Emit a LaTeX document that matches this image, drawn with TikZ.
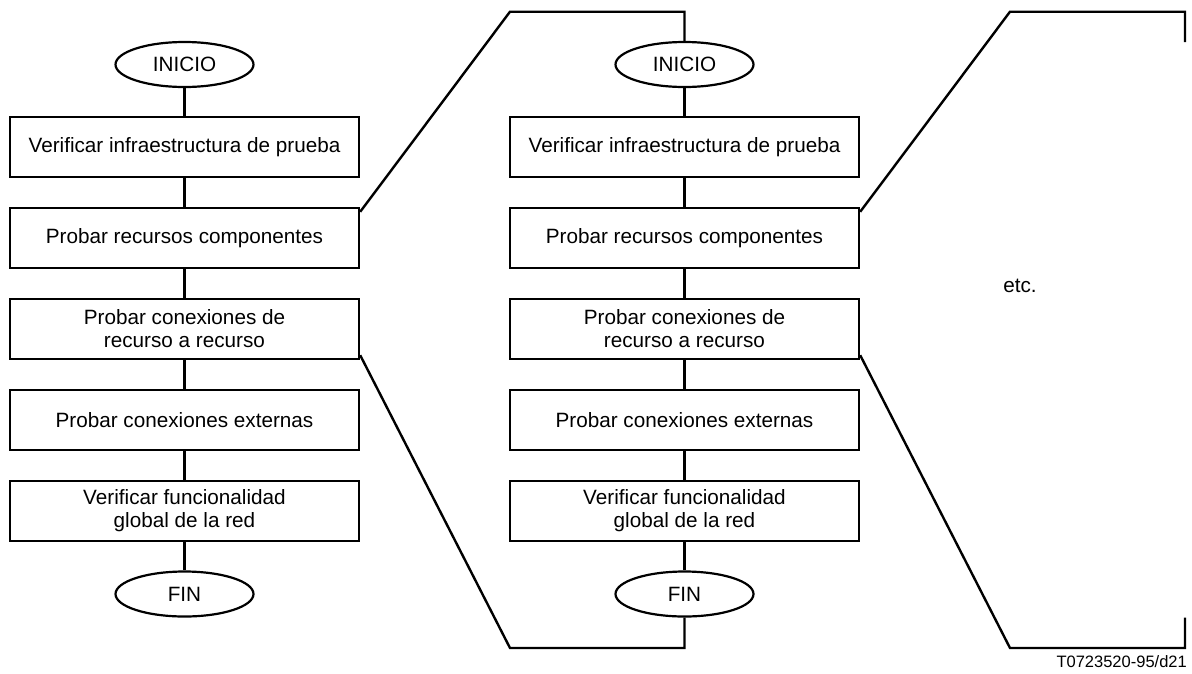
\documentclass[tikz,border=0pt]{standalone}
\usepackage{fontspec}
\setmainfont{Liberation Sans}
\usetikzlibrary{shapes.geometric,calc}
\begin{document}
\begin{tikzpicture}[x=1pt,y=-1pt,
  every node/.style={font=\fontsize{20.7}{23}\selectfont, inner sep=0pt},
  stepbox/.style={draw, line width=2.4pt, minimum width=349pt, minimum height=60pt, align=center},
  term/.style={draw, ellipse, line width=2.2pt, minimum width=138pt, minimum height=45pt},
  link/.style={line width=2.4pt},
  brk/.style={line width=2.4pt, line join=miter}]
\useasboundingbox (0,0) rectangle (1192,673);
% left column
\node[term] (LS) at (184.5,64.5) {INICIO};
\node[stepbox] (L1) at (184.5,147) {Verificar infraestructura de prueba};
\node[stepbox] (L2) at (184.5,238) {Probar recursos componentes};
\node[stepbox] (L3) at (184.5,329) {Probar conexiones de\\recurso a recurso};
\node[stepbox] (L4) at (184.5,420) {Probar conexiones externas};
\node[stepbox] (L5) at (184.5,511) {Verificar funcionalidad\\global de la red};
\node[term] (LF) at (184.5,594) {FIN};
% middle column
\node[term] (MS) at (684.5,64.5) {INICIO};
\node[stepbox] (M1) at (684.5,147) {Verificar infraestructura de prueba};
\node[stepbox] (M2) at (684.5,238) {Probar recursos componentes};
\node[stepbox] (M3) at (684.5,329) {Probar conexiones de\\recurso a recurso};
\node[stepbox] (M4) at (684.5,420) {Probar conexiones externas};
\node[stepbox] (M5) at (684.5,511) {Verificar funcionalidad\\global de la red};
\node[term] (MF) at (684.5,594) {FIN};
% chains
\foreach \c in {L,M}{
  \draw[link] (\c S) -- (\c 1);
  \draw[link] (\c 1) -- (\c 2);
  \draw[link] (\c 2) -- (\c 3);
  \draw[link] (\c 3) -- (\c 4);
  \draw[link] (\c 4) -- (\c 5);
  \draw[link] (\c 5) -- (\c F);
}
% brackets to middle column
\coordinate (LTa) at ($(L2.north east)+(0,5)$);
\coordinate (LBa) at ($(L3.south east)+(0,-5)$);
\draw[brk] (LTa) -- (510,11.7) -| (MS.north);
\draw[brk] (LBa) -- (510,648) -| (MF.south);
% brackets to the right (etc.)
\coordinate (MTa) at ($(M2.north east)+(0,5)$);
\coordinate (MBa) at ($(M3.south east)+(0,-5)$);
\coordinate (RT) at (1185,42);
\coordinate (RB) at (1185,617.5);
\draw[brk] (MTa) -- (1010,11.7) -| (RT);
\draw[brk] (MBa) -- (1010,648) -| (RB);
\node (etc) at (1020,286) {etc.};
\node[font=\fontsize{16.5}{19}\selectfont, anchor=east] (lbl) at (1187,662) {T0723520-95/d21};
\end{tikzpicture}
\end{document}
